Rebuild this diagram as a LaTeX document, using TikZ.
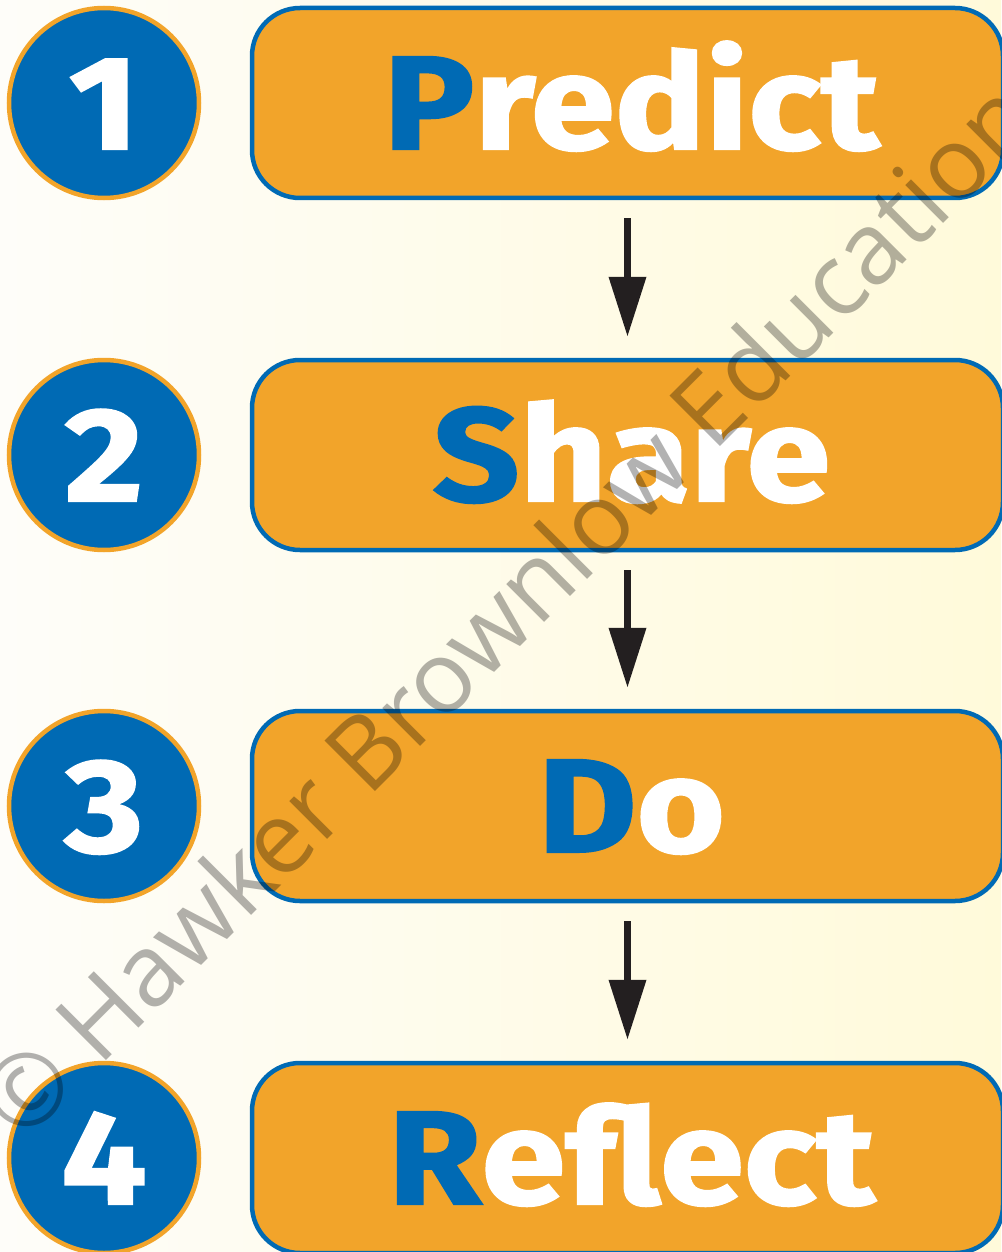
\documentclass[tikz,border=0pt]{standalone}
\usepackage{fontspec}
\setmainfont{Fira Sans}
\newfontfamily\wmfont{Open Sans}
\newfontfamily\heavyfont{Fira Sans}[FakeStretch=1.14, BoldFeatures={FakeBold=1.5}]
\usetikzlibrary{arrows.meta,calc}
\definecolor{hbblue}{RGB}{0,106,180}
\definecolor{hborange}{RGB}{242,164,42}
\definecolor{hbarrow}{RGB}{35,31,32}
\definecolor{bgleft}{RGB}{254,253,249}
\definecolor{bgright}{RGB}{255,250,218}
\definecolor{wmgray}{RGB}{178,178,178}
\newcommand\firstl[1]{\textcolor{hbblue}{#1}}
\begin{document}
\begin{tikzpicture}[x=1pt,y=-1pt,
  numcircle/.style={circle, fill=hbblue, draw=hborange, line width=4.5pt,
    minimum size=190pt, inner sep=0pt, text=white,
    font=\heavyfont\bfseries\fontsize{133}{133}\selectfont, text height=92pt, text depth=0pt},
  stepbox/.style={rectangle, rounded corners=48pt, fill=hborange, draw=hbblue,
    line width=4.5pt, minimum width=751pt, minimum height=190pt, inner sep=0pt,
    text=white, font=\heavyfont\bfseries\fontsize{133}{133}\selectfont,
    text height=92pt, text depth=0pt},
  flow/.style={line width=7pt, draw=hbarrow, -{Triangle[width=36pt,length=60pt]}}
]
\useasboundingbox (0,0) rectangle (1001,1252);
\fill[left color=bgleft, right color=bgright] (0,0) rectangle (1001,1252);

\node[numcircle] (c1) at (104,103) {1};
\node[numcircle] (c2) at (104,455) {2};
\node[numcircle] (c3) at (104,806) {3};
\node[numcircle] (c4) at (104,1158) {4};

\node[stepbox] (b1) at (627.5,103) {\hspace*{8pt}\firstl{P}redict};
\node[stepbox] (b2) at (627.5,455) {\hspace*{8pt}\firstl{S}hare};
\node[stepbox] (b3) at (627.5,806) {\hspace*{8pt}\firstl{D}o};
\node[stepbox] (b4) at (627.5,1158) {\hspace*{8pt}\firstl{R}eflect};

\draw[flow] ($(b1.south)+(0,18)$) -- ($(b2.north)+(0,-21)$);
\draw[flow] ($(b2.south)+(0,18)$) -- ($(b3.north)+(0,-21)$);
\draw[flow] ($(b3.south)+(0,18)$) -- ($(b4.north)+(0,-21)$);

\begin{scope}[blend mode=multiply]
\node[rotate=45, anchor=base west, text=wmgray, inner sep=0pt,
  font=\wmfont\fontsize{100}{100}\selectfont] (wm) at (22,1145)
  {© Hawker Brownlow Education};
\end{scope}
\end{tikzpicture}
\end{document}
